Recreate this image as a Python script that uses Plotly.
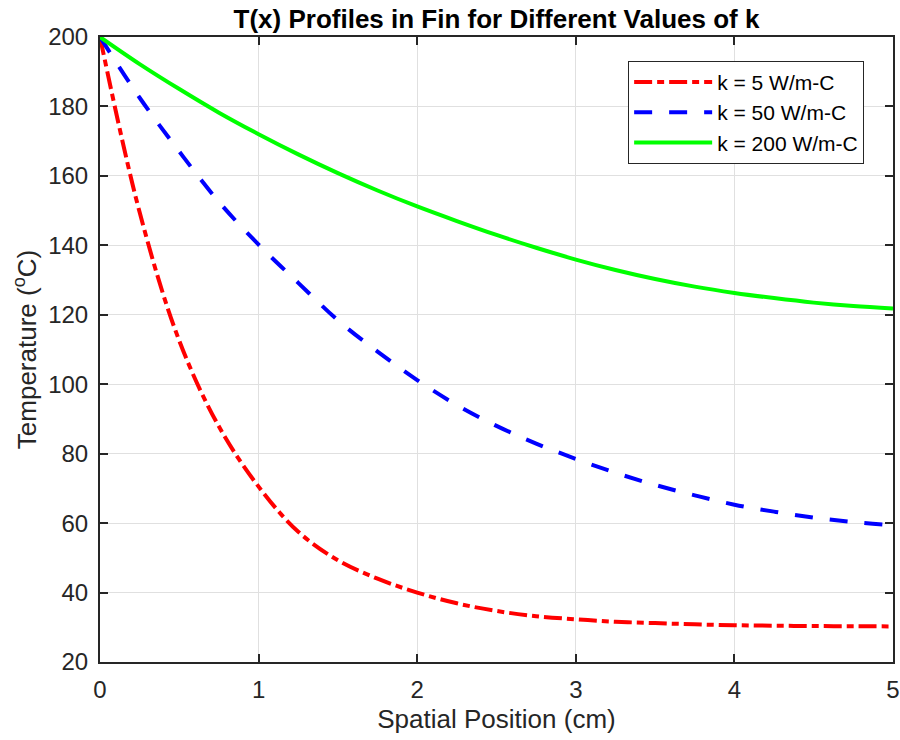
import plotly.graph_objects as go

# Spatial position (cm)
x_cm = [0, 0.25, 0.5, 0.75, 1, 1.25, 1.5, 1.75, 2, 2.25, 2.5, 2.75, 3,
        3.25, 3.5, 3.75, 4, 4.25, 4.5, 4.75, 5]

# Temperature (deg C)
T_k5 = [200, 149.5, 112.5, 87.8, 70.5, 57.5, 49.3, 44.0, 40.0, 36.9, 34.7,
        33.2, 32.3, 31.6, 31.2, 30.85, 30.6, 30.45, 30.35, 30.3, 30.25]
T_k50 = [200, 182.5, 167.0, 152.5, 140.2, 129.2, 118.4, 109.4, 101.2, 94.0, 88.0,
         82.9, 78.5, 74.5, 71.0, 68.0, 65.3, 63.3, 61.6, 60.3, 59.4]
T_k200 = [200, 192.2, 185.0, 178.2, 172.0, 166.2, 160.8, 155.8, 151.2, 147.0, 143.0,
          139.3, 135.9, 132.9, 130.3, 128.1, 126.3, 124.8, 123.5, 122.5, 121.8]

labels = ["k = 5 W/m-C", "k = 50 W/m-C", "k = 200 W/m-C"]
x_ticks = [0, 1, 2, 3, 4, 5]
y_ticks = [20, 40, 60, 80, 100, 120, 140, 160, 180, 200]

FONT = "Arial, Liberation Sans, Helvetica, sans-serif"
AX = "#262626"

fig = go.Figure()
fig.add_trace(go.Scatter(x=x_cm, y=T_k5, mode="lines", name=labels[0],
                         line=dict(color="#ff0000", width=4, shape="spline",
                                   dash="18px,5px,7px,5px")))
fig.add_trace(go.Scatter(x=x_cm, y=T_k50, mode="lines", name=labels[1],
                         line=dict(color="#0000ff", width=4, shape="spline",
                                   dash="18px,17px")))
fig.add_trace(go.Scatter(x=x_cm, y=T_k200, mode="lines", name=labels[2],
                         line=dict(color="#00ff00", width=4, shape="spline")))

axis_common = dict(
    showline=True, linecolor=AX, linewidth=2, mirror="ticks",
    ticks="inside", ticklen=8, tickwidth=2, tickcolor=AX,
    showgrid=True, gridcolor="#e0e0e0", gridwidth=1,
    zeroline=False, automargin=False, ticklabelstandoff=5,
    tickfont=dict(family=FONT, size=24, color=AX),
)

fig.update_xaxes(range=[0, 5], tickvals=x_ticks,
                 title=dict(text="Spatial Position (cm)",
                            font=dict(family=FONT, size=26, color=AX), standoff=8),
                 **axis_common)
fig.update_yaxes(range=[20, 200], tickvals=y_ticks,
                 title=dict(text="Temperature (<sup>o</sup>C)",
                            font=dict(family=FONT, size=26, color=AX), standoff=4),
                 **axis_common)

fig.update_layout(
    width=900, height=740,
    margin=dict(l=100, r=7, t=37, b=78),
    paper_bgcolor="white", plot_bgcolor="white",
    title=dict(text="<b>T(x) Profiles in Fin for Different Values of k</b>",
               font=dict(family=FONT, size=26, color="#000000"),
               x=0.5, xref="paper", xanchor="center",
               y=1 - 19 / 740, yref="container", yanchor="middle"),
    legend=dict(x=0.666, y=0.962, xanchor="left", yanchor="top",
                bgcolor="white", bordercolor=AX, borderwidth=1,
                font=dict(family=FONT, size=21, color="#000000"),
                itemwidth=78, tracegroupgap=0),
    showlegend=True,
)

# remove the default 8px page margin so the 900x740 figure fills the window
fig.write_html("out.html",
               config={"displayModeBar": False, "staticPlot": True},
               post_script="document.body.style.margin='0';"
                           "document.body.style.overflow='hidden';")
